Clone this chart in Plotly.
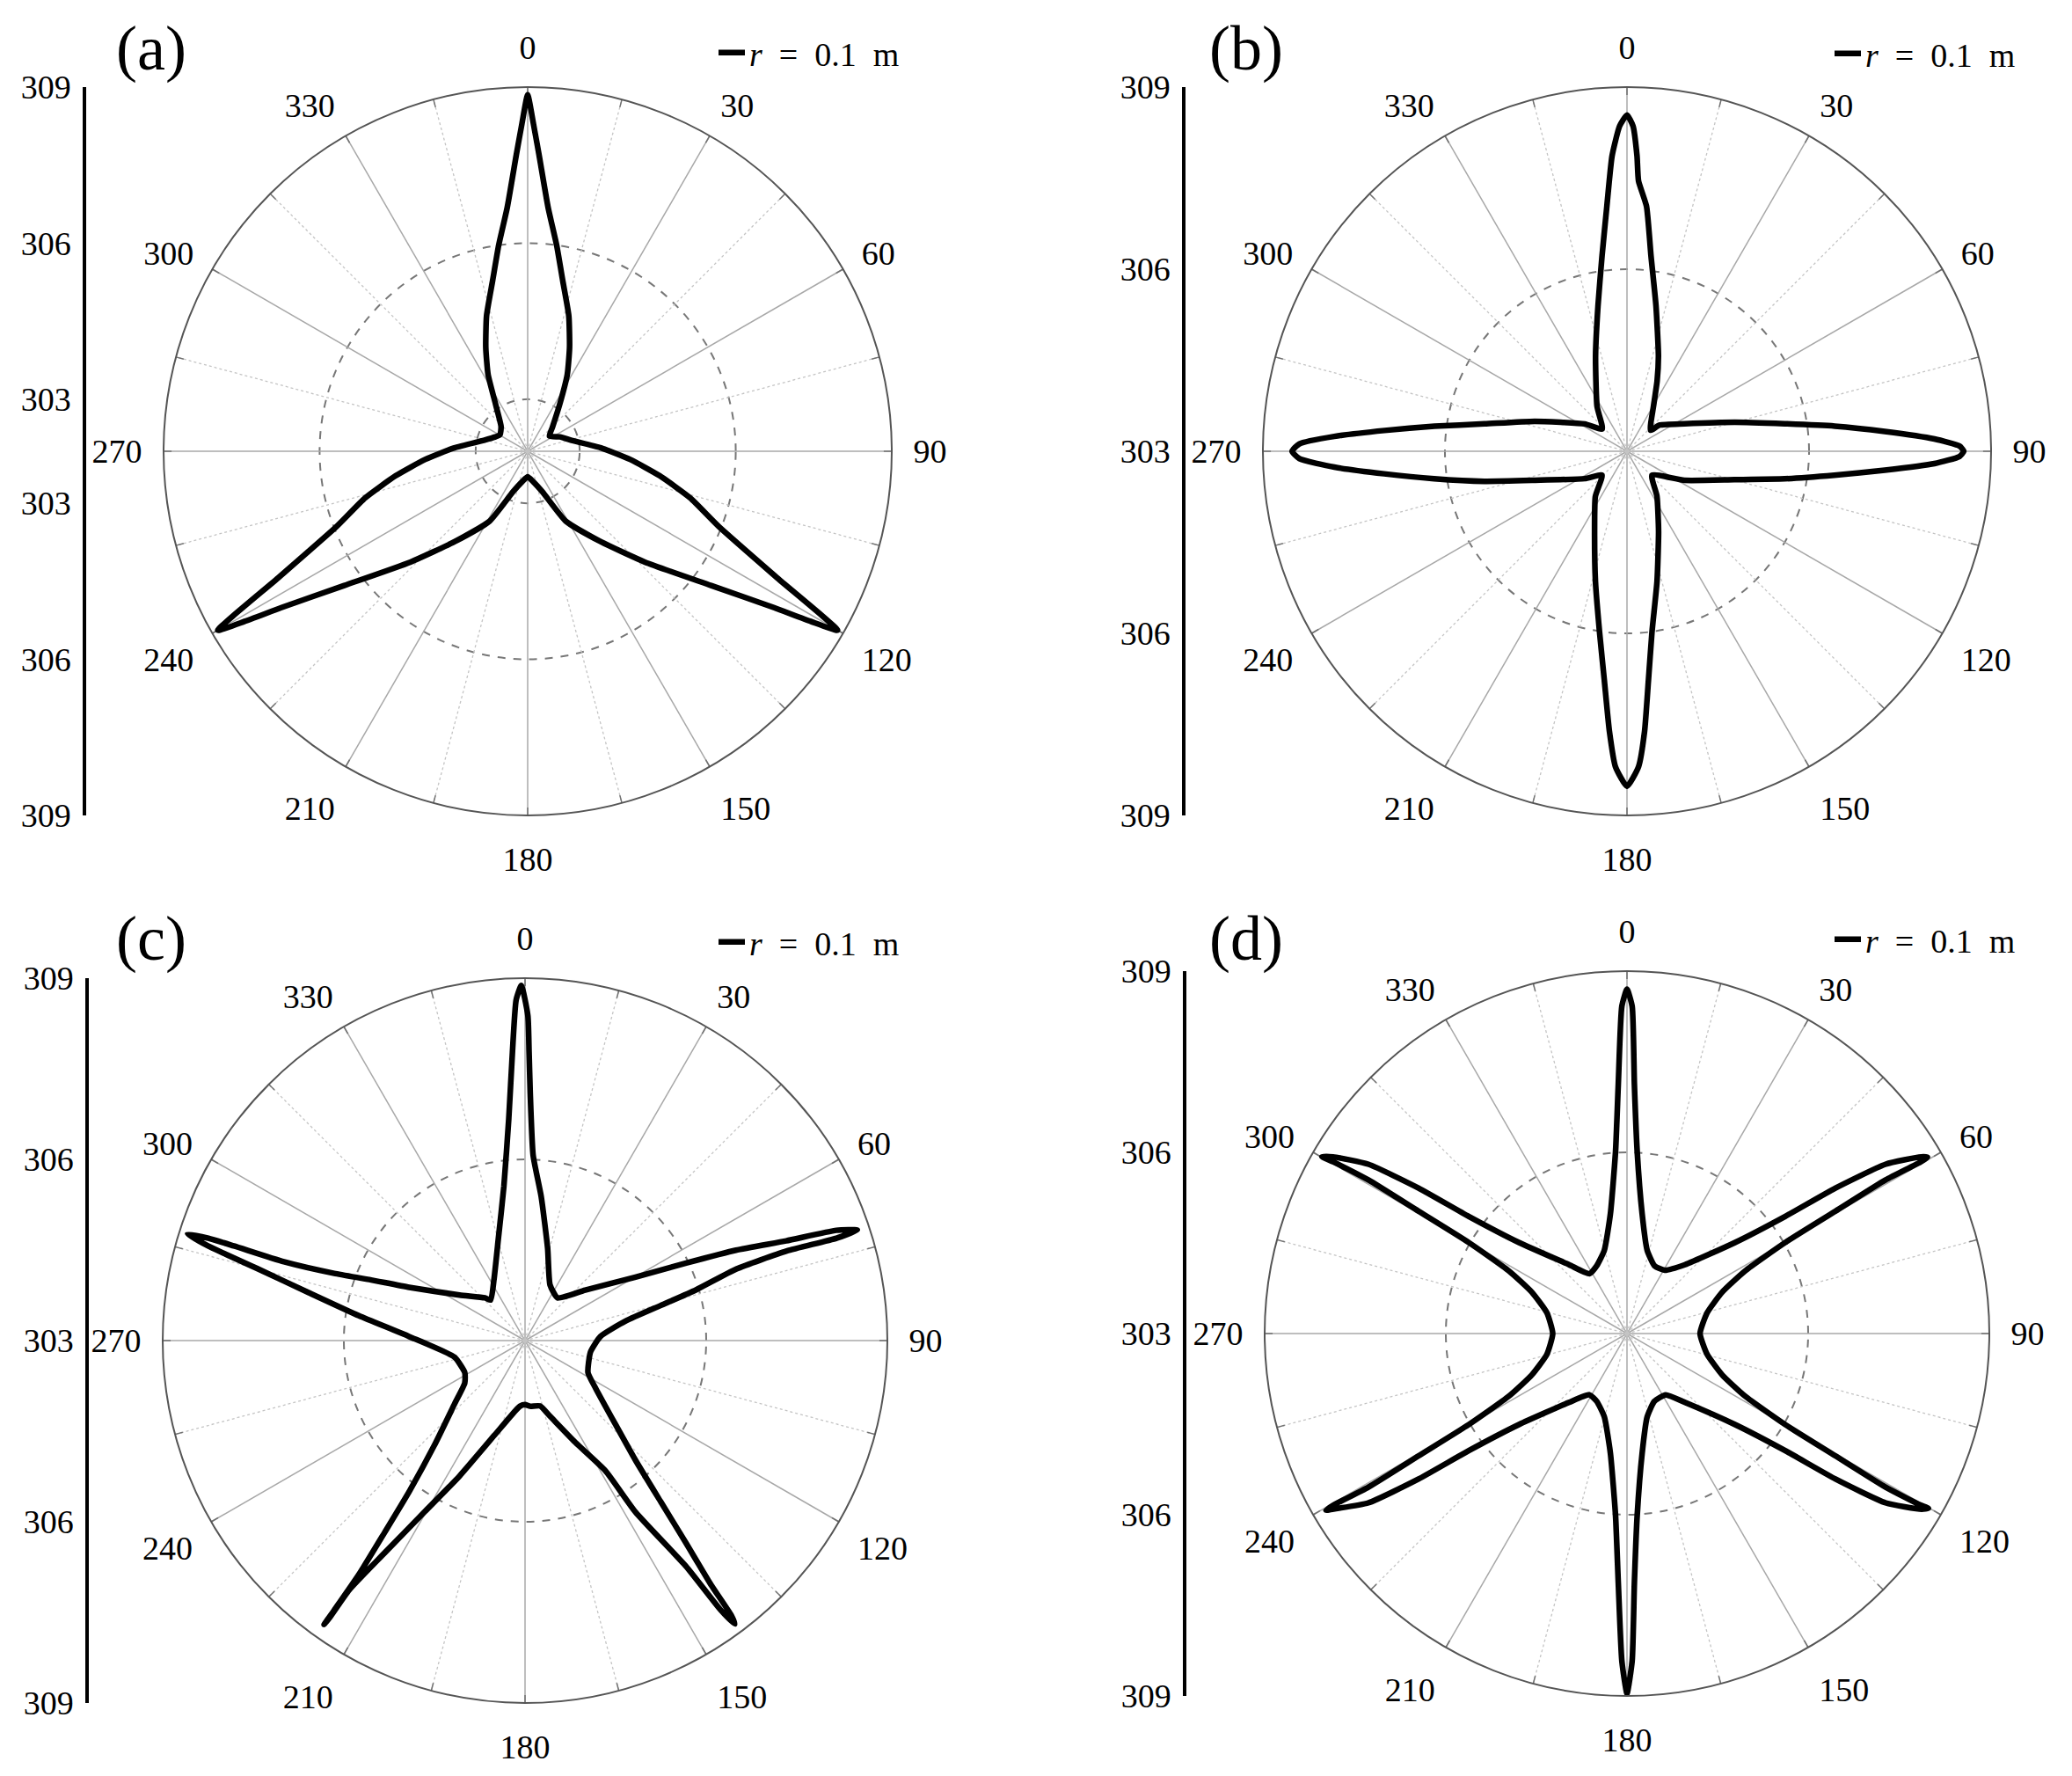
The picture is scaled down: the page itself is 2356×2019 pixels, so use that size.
import plotly.graph_objects as go

W, H = 2356, 2019
FONT = "Liberation Serif"
OFF = 8  # page body margin compensation (px)

# ---------------- data ----------------
ANGLE_TICKS = [0, 30, 60, 90, 120, 150, 180, 210, 240, 270, 300, 330]
ANGLE_TICK_LABELS = ["0", "30", "60", "90", "120", "150", "180", "210", "240", "270", "300", "330"]
MINOR_ANGLES = [15, 45, 75, 105, 135, 165, 195, 225, 255, 285, 315, 345]

PANEL_LABELS = ["(a)", "(b)", "(c)", "(d)"]
SERIES_NAME = "<i>r</i>\u2002=\u20020.1\u2002m"

RANGE_A = [302, 309]
RANGE_B = [303, 309]
RANGE_C = [303, 309]
RANGE_D = [303, 309]

GRID_A = [303, 306]
GRID_B = [306]
GRID_C = [306]
GRID_D = [306]

RADIAL_LABELS_A = [303, 306, 309]
RADIAL_LABELS_B = [303, 306, 309]
RADIAL_LABELS_C = [303, 306, 309]
RADIAL_LABELS_D = [303, 306, 309]

THETA_A = [0, 1.0, 2.2, 4.8, 8.0, 11.6, 16.9, 22.0, 27.3, 34.2, 46.0, 55.0, 66.0, 76.0, 87.3,
           94.6, 100.5, 106.0, 111.5, 116.9, 120.0, 121.0, 122.4, 126.2, 133.4, 141.0, 151.4,
           160.0, 170.0, 180.0, 190.0, 200.0, 208.6, 219.0, 226.6, 233.8, 237.6, 239.0, 240.0,
           243.1, 248.5, 254.0, 259.5, 265.4, 272.7, 284.0, 294.0, 301.0, 313.0, 325.8, 332.7,
           338.0, 343.1, 348.4, 352.0, 355.2, 357.8, 359.0, 360.0]
R_A = [308.85, 308.30, 307.70, 306.70, 306.00, 305.35, 304.72, 304.15, 303.66, 303.10, 302.66,
       302.51, 302.68, 302.87, 303.41, 303.98, 304.58, 305.25, 305.95, 307.38, 308.88, 308.35,
       307.61, 306.37, 305.10, 304.24, 303.53, 302.83, 302.59, 302.49, 302.59, 302.83, 303.53,
       304.24, 305.10, 306.37, 307.61, 308.35, 308.88, 307.38, 305.95, 305.25, 304.58, 303.98,
       303.41, 302.87, 302.68, 302.62, 302.70, 303.10, 303.66, 304.15, 304.72, 305.35, 306.00,
       306.70, 307.70, 308.30, 308.85]

THETA_B = [0.0, 1.06, 1.94, 2.44, 4.55, 7.02, 11.3, 18.3, 23.2, 30.5, 48.2, 51.3, 64.4, 74.9,
           80.1, 83.1, 85.6, 87.7, 89.1, 90.0, 90.9, 92.3, 94.2, 96.6, 99.9, 104.8, 116.8, 133.8,
           146.3, 158.5, 167.0, 172.1, 174.7, 176.4, 177.9, 180.0, 182.1, 183.6, 185.6, 188.7,
           193.6, 202.1, 215.0, 226.2, 237.1, 252.6, 258.1, 261.9, 264.7, 266.9, 268.7, 270.0,
           271.3, 272.9, 274.9, 277.4, 280.9, 288.0, 302.9, 312.0, 326.3, 341.7, 348.7, 352.7,
           355.3, 357.1, 358.7, 360.0]
R_B = [308.54, 308.36, 307.87, 307.46, 307.05, 306.24, 305.44, 304.65, 304.26, 303.86, 303.52,
       303.69, 304.05, 304.84, 305.64, 306.45, 307.26, 308.07, 308.48, 308.55, 308.48, 308.07,
       307.26, 306.44, 305.64, 304.83, 304.06, 303.57, 303.89, 304.42, 305.20, 306.00, 306.81,
       307.62, 308.20, 308.52, 308.20, 307.62, 306.81, 306.00, 305.21, 304.42, 303.91, 303.57,
       303.83, 304.60, 305.40, 306.21, 307.02, 307.83, 308.40, 308.52, 308.40, 307.83, 307.01,
       306.20, 305.39, 304.60, 303.83, 303.55, 303.89, 304.65, 305.44, 306.24, 307.05, 307.87,
       308.36, 308.54]

THETA_C = [359.4, 0.5, 0.8, 1.2, 2.5, 6.4, 13.8, 24.2, 37.3, 50.0, 60.1, 64.3, 66.8, 69.1, 70.5,
           71.6, 71.8, 71.1, 71.3, 73.5, 75.5, 79.0, 86.9, 99.9, 117.0, 124.0, 132.8, 137.3,
           139.9, 141.5, 142.7, 143.1, 143.5, 144.0, 144.5, 147.2, 148.3, 153.7, 161.7, 167.1,
           175.6, 180.0, 184.4, 188.1, 197.8, 205.8, 210.4, 213.5, 215.2, 215.2, 215.3, 215.3,
           215.4, 216.2, 217.5, 220.9, 228.2, 234.9, 242.0, 256.8, 272.0, 278.5, 282.5, 285.0,
           286.6, 287.5, 287.9, 288.0, 288.1, 289.4, 291.4, 294.7, 304.8, 316.8, 319.7, 332.9,
           345.4, 352.2, 355.8, 357.5, 358.5, 359.4]
R_C = [308.88, 308.38, 307.78, 307.10, 306.07, 305.40, 304.57, 304.01, 303.89, 304.30, 305.11,
       305.96, 306.80, 307.63, 308.47, 308.80, 308.43, 307.58, 306.69, 305.95, 305.32, 304.70,
       304.25, 304.10, 304.17, 304.41, 305.04, 305.70, 306.49, 307.28, 308.08, 308.69, 308.84,
       308.52, 307.59, 306.38, 305.53, 304.88, 304.32, 304.11, 304.09, 304.06, 304.09, 304.18,
       304.64, 305.49, 306.29, 307.22, 308.05, 308.63, 308.76, 308.47, 307.74, 306.94, 306.15,
       305.29, 304.56, 304.22, 304.13, 304.20, 304.92, 305.78, 306.67, 307.57, 308.47, 308.86,
       308.51, 308.07, 307.20, 306.35, 305.77, 305.11, 304.32, 303.97, 303.88, 304.13, 304.75,
       305.58, 306.68, 307.78, 308.64, 308.88]

THETA_D = [0.0, 0.9, 1.7, 3.2, 7.2, 13.6, 22.2, 30.8, 40.1, 49.9, 53.5, 55.1, 56.8, 59.0, 59.6,
           59.7, 59.3, 59.6, 60.1, 62.1, 66.5, 75.5, 90.0, 104.5, 113.5, 117.9, 119.9, 120.4,
           120.7, 120.3, 120.1, 120.8, 123.2, 124.9, 126.5, 130.1, 139.9, 147.7, 158.0, 166.4,
           172.8, 176.8, 178.3, 179.1, 180.0, 180.9, 182.0, 183.6, 187.9, 195.2, 204.0, 211.6,
           220.1, 229.9, 233.5, 235.1, 236.8, 239.2, 239.6, 239.7, 239.3, 239.6, 240.1, 242.1,
           246.5, 255.5, 270.0, 284.5, 293.5, 297.9, 299.9, 300.4, 300.7, 300.3, 300.1, 301.0,
           303.2, 304.9, 306.5, 310.1, 319.9, 327.8, 336.0, 344.8, 352.1, 356.4, 358.0, 359.1,
           360.0]
R_D = [308.70, 308.42, 307.13, 306.02, 305.00, 304.42, 304.21, 304.22, 304.49, 305.34, 306.26,
       307.21, 308.12, 308.68, 308.77, 308.63, 307.98, 307.00, 306.02, 305.21, 304.72, 304.37,
       304.21, 304.37, 304.72, 305.21, 306.02, 307.00, 307.98, 308.63, 308.77, 308.68, 308.12,
       307.21, 306.26, 305.34, 304.49, 304.20, 304.21, 304.42, 305.00, 306.02, 307.13, 308.42,
       308.96, 308.42, 307.13, 306.02, 305.00, 304.43, 304.23, 304.19, 304.49, 305.34, 306.26,
       307.21, 308.12, 308.68, 308.78, 308.63, 307.98, 307.00, 306.02, 305.21, 304.72, 304.37,
       304.23, 304.37, 304.72, 305.21, 306.02, 307.00, 307.98, 308.63, 308.84, 308.68, 308.12,
       307.21, 306.26, 305.34, 304.49, 304.17, 304.23, 304.43, 305.00, 306.02, 307.13, 308.42,
       308.70]

# ---------------- layout (pixel geometry, reference coordinates) ----------------
PANELS = [
    dict(theta=THETA_A, r=R_A, rng=RANGE_A, grid=GRID_A, rlabels=RADIAL_LABELS_A, label=PANEL_LABELS[0],
         cx=600, cy=513, R=414, axis_x=98, leg_x=1028, leg_y=60, lab_x=130, lab_y=55),
    dict(theta=THETA_B, r=R_B, rng=RANGE_B, grid=GRID_B, rlabels=RADIAL_LABELS_B, label=PANEL_LABELS[1],
         cx=1850, cy=513, R=414, axis_x=1348, leg_x=2297, leg_y=61, lab_x=1373, lab_y=55),
    dict(theta=THETA_C, r=R_C, rng=RANGE_C, grid=GRID_C, rlabels=RADIAL_LABELS_C, label=PANEL_LABELS[2],
         cx=597, cy=1524, R=412, axis_x=101, leg_x=1028, leg_y=1071, lab_x=130, lab_y=1067),
    dict(theta=THETA_D, r=R_D, rng=RANGE_D, grid=GRID_D, rlabels=RADIAL_LABELS_D, label=PANEL_LABELS[3],
         cx=1850, cy=1516, R=412, axis_x=1349, leg_x=2297, leg_y=1068, lab_x=1373, lab_y=1067),
]

fig = go.Figure()
layout = dict(
    width=W, height=H,
    margin=dict(l=0, r=0, t=0, b=0, pad=0, autoexpand=False),
    paper_bgcolor="white", plot_bgcolor="rgba(0,0,0,0)",
    font=dict(family=FONT, size=38, color="black"),
    annotations=[],
)


def px(x):
    return (x - OFF) / W


def py(y):
    return 1 - (y - OFF) / H


for i, p in enumerate(PANELS, start=1):
    sfx = "" if i == 1 else str(i)
    polar_id = "polar" + sfx
    leg_id = "legend" + sfx
    rmin, rmax = p["rng"]

    xd = [px(p["cx"] - p["R"]), px(p["cx"] + p["R"])]
    yd = [py(p["cy"] + p["R"]), py(p["cy"] - p["R"])]

    # solid spokes every 30 deg
    sr, st = [], []
    for a in ANGLE_TICKS:
        sr += [rmin, rmax, None]
        st += [a, a, None]
    fig.add_trace(go.Scatterpolar(r=sr, theta=st, mode="lines", subplot=polar_id,
                                  line=dict(color="#a8a8a8", width=1.5),
                                  showlegend=False, hoverinfo="skip", connectgaps=False))
    # dotted spokes in between
    dr, dt = [], []
    for a in MINOR_ANGLES:
        dr += [rmin, rmax, None]
        dt += [a, a, None]
    fig.add_trace(go.Scatterpolar(r=dr, theta=dt, mode="lines", subplot=polar_id,
                                  line=dict(color="#c4c4c4", width=1.3, dash="dot"),
                                  showlegend=False, hoverinfo="skip", connectgaps=False))
    # short tick marks on the rim
    tl = (rmax - rmin) * 0.022
    kr, kt = [], []
    for a in sorted(ANGLE_TICKS + MINOR_ANGLES):
        kr += [rmax - tl, rmax, None]
        kt += [a, a, None]
    fig.add_trace(go.Scatterpolar(r=kr, theta=kt, mode="lines", subplot=polar_id,
                                  line=dict(color="#707070", width=1.5),
                                  showlegend=False, hoverinfo="skip", connectgaps=False))
    # the measured curve
    fig.add_trace(go.Scatterpolar(r=p["r"], theta=p["theta"], mode="lines", subplot=polar_id,
                                  name=SERIES_NAME, legend=leg_id, showlegend=True,
                                  line=dict(color="black", width=6.5, shape="spline", smoothing=0.5)))

    layout[polar_id] = dict(
        domain=dict(x=xd, y=yd),
        bgcolor="white",
        angularaxis=dict(rotation=90, direction="clockwise", tickmode="array",
                         tickvals=ANGLE_TICKS, ticktext=ANGLE_TICK_LABELS,
                         ticks="outside", ticklen=16, tickcolor="rgba(0,0,0,0)",
                         tickfont=dict(family=FONT, size=38, color="black"),
                         showline=True, linecolor="#555555", linewidth=2, showgrid=False),
        radialaxis=dict(range=p["rng"], tickmode="array", tickvals=p["grid"],
                        showticklabels=False, ticks="", showline=False, showgrid=True,
                        gridcolor="#777777", gridwidth=1.5, griddash="dash"),
    )

    # left-hand radial scale (mirrored about the centre)
    tv, tt = [], []
    for t in p["rlabels"]:
        d = t - rmin
        tv.append(d)
        tt.append(str(t))
        if d != 0:
            tv.append(-d)
            tt.append(str(t))
    span = rmax - rmin
    xa = "xaxis" + sfx
    ya = "yaxis" + sfx
    layout[xa] = dict(domain=[px(p["axis_x"]), px(p["axis_x"]) + 0.005], visible=False,
                      range=[0, 1], anchor="y" + sfx, automargin=False)
    layout[ya] = dict(domain=yd, anchor="x" + sfx, range=[-span, span], tickmode="array",
                      tickvals=tv, ticktext=tt, showline=True, linecolor="black", linewidth=3.5,
                      ticks="outside", ticklen=6, tickcolor="rgba(0,0,0,0)",
                      showgrid=False, zeroline=False, automargin=False,
                      tickfont=dict(family=FONT, size=38, color="black"))
    fig.add_trace(go.Scatter(x=[0.5], y=[0], xaxis="x" + sfx, yaxis="y" + sfx, mode="markers",
                             marker=dict(opacity=0), showlegend=False, hoverinfo="skip"))

    layout[leg_id] = dict(x=px(p["leg_x"]), y=py(p["leg_y"]), xanchor="right", yanchor="middle",
                          bgcolor="rgba(0,0,0,0)", font=dict(family=FONT, size=38, color="black"))

    layout["annotations"].append(dict(text=p["label"], x=px(p["lab_x"]), y=py(p["lab_y"]),
                                      xref="paper", yref="paper", xanchor="left", yanchor="middle",
                                      showarrow=False, font=dict(family=FONT, size=72, color="black")))

fig.update_layout(**layout)
fig.write_html("out.html")
